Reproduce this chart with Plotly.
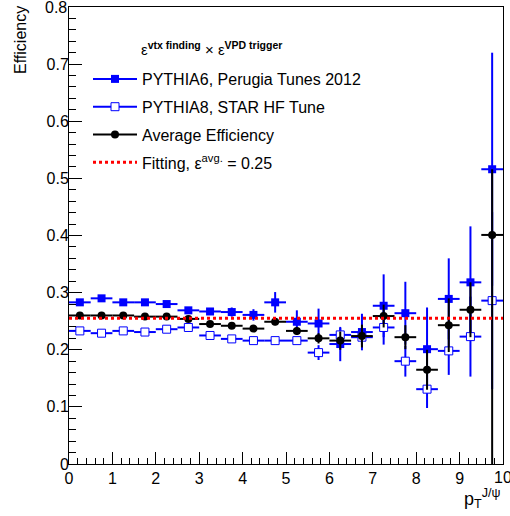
import plotly.graph_objects as go

# ---- data ----
pt = [0.25, 0.75, 1.25, 1.75, 2.25, 2.75, 3.25, 3.75, 4.25, 4.75,
      5.25, 5.75, 6.25, 6.75, 7.25, 7.75, 8.25, 8.75, 9.25, 9.75]
pt_halfwidth = [0.25] * 20

pythia6 = [0.283, 0.290, 0.283, 0.283, 0.280, 0.269, 0.267, 0.266, 0.261, 0.283,
           0.249, 0.246, 0.210, 0.231, 0.277, 0.264, 0.201, 0.289, 0.318, 0.516]
pythia6_err = [0.004, 0.004, 0.004, 0.004, 0.004, 0.005, 0.006, 0.008, 0.010, 0.018,
               0.020, 0.026, 0.030, 0.032, 0.055, 0.055, 0.073, 0.071, 0.098, 0.204]

pythia8 = [0.233, 0.229, 0.233, 0.231, 0.236, 0.239, 0.225, 0.219, 0.216, 0.216,
           0.216, 0.195, 0.226, 0.222, 0.239, 0.180, 0.131, 0.198, 0.223, 0.286]
pythia8_err = [0.003, 0.003, 0.003, 0.003, 0.003, 0.004, 0.004, 0.005, 0.005, 0.005,
               0.006, 0.013, 0.012, 0.014, 0.030, 0.027, 0.033, 0.042, 0.070, 0.155]

average = [0.260, 0.260, 0.260, 0.258, 0.258, 0.254, 0.245, 0.242, 0.237, 0.249,
           0.233, 0.220, 0.216, 0.224, 0.259, 0.222, 0.165, 0.243, 0.270, 0.401]
average_err_up = [0.003, 0.003, 0.003, 0.003, 0.003, 0.003, 0.004, 0.005, 0.005, 0.006,
                  0.007, 0.009, 0.016, 0.020, 0.020, 0.021, 0.035, 0.047, 0.048, 0.115]
average_err_down = [0.003, 0.003, 0.003, 0.003, 0.003, 0.003, 0.004, 0.005, 0.005, 0.006,
                    0.007, 0.009, 0.016, 0.020, 0.020, 0.021, 0.035, 0.047, 0.048, 0.401]

fit_x = [0.0, 10.0]
fit_value = 0.255

x_ticks = [0, 1, 2, 3, 4, 5, 6, 7, 8, 9, 10]
y_ticks = [0, 0.1, 0.2, 0.3, 0.4, 0.5, 0.6, 0.7, 0.8]

BLUE = "#0000ff"
FONT = "Liberation Sans, Arial, sans-serif"

fig = go.Figure()

fig.add_trace(go.Scatter(
    x=pt, y=pythia6, mode="markers", showlegend=False,
    marker=dict(symbol="square", size=8, color=BLUE),
    error_x=dict(type="data", array=pt_halfwidth, color=BLUE, thickness=2, width=0),
    error_y=dict(type="data", array=pythia6_err, color=BLUE, thickness=2, width=0),
))
fig.add_trace(go.Scatter(
    x=pt, y=pythia8, mode="markers", showlegend=False,
    marker=dict(symbol="square", size=8, color="white", line=dict(color=BLUE, width=1)),
    error_x=dict(type="data", array=pt_halfwidth, color=BLUE, thickness=2, width=0),
    error_y=dict(type="data", array=pythia8_err, color=BLUE, thickness=2, width=0),
))
fig.add_trace(go.Scatter(
    x=pt, y=average, mode="markers", showlegend=False,
    marker=dict(symbol="circle", size=8, color="black"),
    error_x=dict(type="data", array=pt_halfwidth, color="black", thickness=2, width=0),
    error_y=dict(type="data", symmetric=False, array=average_err_up,
                 arrayminus=average_err_down, color="black", thickness=2, width=0),
))
fig.add_trace(go.Scatter(
    x=fit_x, y=[fit_value] * len(fit_x), mode="lines", showlegend=False,
    line=dict(color="#ff0000", width=3, dash="dot"),
))

# legend-only entries
fig.add_trace(go.Scatter(x=[None], y=[None], mode="lines+markers", name="PYTHIA6, Perugia Tunes 2012",
                         legendgroup="a", marker=dict(symbol="square", size=8, color=BLUE),
                         line=dict(color=BLUE, width=2)))
fig.add_trace(go.Scatter(x=[None], y=[None], mode="lines+markers", name="PYTHIA8, STAR HF Tune",
                         legendgroup="b",
                         marker=dict(symbol="square", size=8, color="white", line=dict(color=BLUE, width=1)),
                         line=dict(color=BLUE, width=2)))
fig.add_trace(go.Scatter(x=[None], y=[None], mode="lines+markers", name="Average Efficiency",
                         legendgroup="c", marker=dict(symbol="circle", size=8, color="black"),
                         line=dict(color="black", width=2)))
fig.add_trace(go.Scatter(x=[None], y=[None], mode="lines", name="Fitting, ε<sup>avg.</sup> = 0.25",
                         legendgroup="d", line=dict(color="#ff0000", width=3, dash="dot")))

W, H = 510, 516
L, R, T, B = 69, 7, 7, 52
pw, ph = W - L - R, H - T - B

fig.update_layout(
    width=W, height=H,
    margin=dict(l=L, r=R, t=T, b=B, autoexpand=False),
    paper_bgcolor="white", plot_bgcolor="white",
    font=dict(family=FONT, size=16, color="black"),
    showlegend=True,
    legend=dict(x=(88 - L) / pw, y=1 - (62 - T) / ph, xanchor="left", yanchor="top",
                bgcolor="rgba(0,0,0,0)", borderwidth=0, tracegroupgap=4,
                font=dict(family=FONT, size=16), traceorder="grouped", itemwidth=44),
    xaxis=dict(range=[0, 10], tickvals=x_ticks, ticks="inside", ticklen=12, tickwidth=1,
               tickcolor="black", showline=True, linecolor="black", linewidth=1, mirror=True,
               showgrid=False, zeroline=False, tickfont=dict(size=16), automargin=False,
               minor=dict(dtick=0.2, ticks="inside", ticklen=6, tickcolor="black", showgrid=False)),
    yaxis=dict(range=[0, 0.8], tickvals=y_ticks, ticktext=[f"{v:g}" for v in y_ticks],
               ticks="inside", ticklen=13, tickwidth=1, automargin=False, ticklabelstandoff=-4,
               tickcolor="black", showline=True, linecolor="black", linewidth=1, mirror=True,
               showgrid=False, zeroline=False, tickfont=dict(size=16),
               minor=dict(dtick=0.02, ticks="inside", ticklen=7, tickcolor="black", showgrid=False)),
    annotations=[
        # end-of-range tick labels that plotly hides at the page edge
        dict(text="0.8", xref="paper", yref="y", x=0, y=y_ticks[-1], xanchor="right",
             yanchor="middle", xshift=0, showarrow=False, font=dict(size=16)),
        dict(text="10", xref="x", yref="paper", x=x_ticks[-1], y=0, xanchor="center",
             yanchor="top", yshift=-3, showarrow=False, font=dict(size=16)),
        dict(text="Efficiency", textangle=-90, xref="paper", yref="paper",
             x=(20 - L) / pw, y=1 + (T - 4) / ph, xanchor="center", yanchor="top",
             showarrow=False, font=dict(size=16)),
        dict(text="p<sub>T</sub><sup>J/ψ</sup>", xref="paper", yref="paper",
             x=1 + 0 / pw, y=-(484 - T - ph) / ph, xanchor="right", yanchor="top",
             showarrow=False, font=dict(size=18)),
        dict(text="ε<sup><b>vtx finding</b></sup> × ε<sup><b>VPD trigger</b></sup>",
             xref="paper", yref="paper", x=(139 - L) / pw, y=1 - (37 - T) / ph,
             xanchor="left", yanchor="top", showarrow=False, font=dict(size=15)),
    ],
)

fig.write_html("out.html")
